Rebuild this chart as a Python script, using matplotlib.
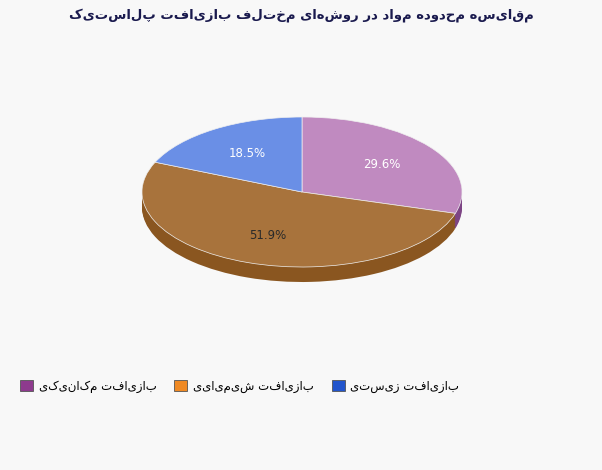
import matplotlib
matplotlib.use("Agg")
import matplotlib.pyplot as plt
from matplotlib.patches import Patch

title = "مقایسه محدوده مواد در روش‌های مختلف بازیافت پلاستیک"
categories = ["بازیافت مکانیکی", "بازیافت شیمیایی", "بازیافت زیستی"]
values = [29.6, 51.9, 18.5]
top_colors = ["#c08ac0", "#a8733c", "#6a8fe6"]
side_colors = ["#7d4585", "#8a5620", "#3f5fae"]
legend_colors = ["#8e3a8e", "#f08a24", "#2255cc"]

def rtl(s):
    return s[::-1]

plt.rcParams['font.family'] = ['DejaVu Sans']
fig = plt.figure(figsize=(6.02, 4.70), dpi=100, facecolor="#f8f8f8")
W, H = 602, 470
ax = fig.add_axes([142 / W, 180.5 / H, 320 / W, 180 / H])
ax.set_facecolor("#f8f8f8")

depth = 0.2
n = 12
for i in range(n, 0, -1):
    k = depth * i / n
    ax.pie(values, colors=side_colors, startangle=90, counterclock=False,
           center=(0, -k), radius=1, wedgeprops=dict(linewidth=0))
wedges, texts, autotexts = ax.pie(values, colors=top_colors, startangle=90, counterclock=False,
       center=(0, 0), radius=1, autopct="%.1f%%", pctdistance=0.62,
       wedgeprops=dict(linewidth=0.5, edgecolor="#f0f0f0"),
       textprops=dict(color="white", fontsize=8.5))
autotexts[1].set_color("#2a2a2a")
ax.set_aspect('auto')
ax.set_xlim(-1, 1)
ax.set_ylim(-1.3, 1.1)
ax.axis('off')

fig.text(0.5, 1 - 15 / H, rtl(title), ha='center', va='center', fontsize=9.5,
         fontweight='bold', color="#1a1a4e")

handles = [Patch(facecolor=c, edgecolor="#555555", linewidth=0.6) for c in legend_colors]
fig.legend(handles, [rtl(c) for c in categories], loc='center left',
           bbox_to_anchor=(9 / W, 1 - 386 / H), ncol=3, frameon=False,
           fontsize=8.5, handlelength=1.1, handleheight=1.1, columnspacing=1.5,
           handletextpad=0.5)

fig.savefig("out.png", dpi=100, facecolor=fig.get_facecolor())
